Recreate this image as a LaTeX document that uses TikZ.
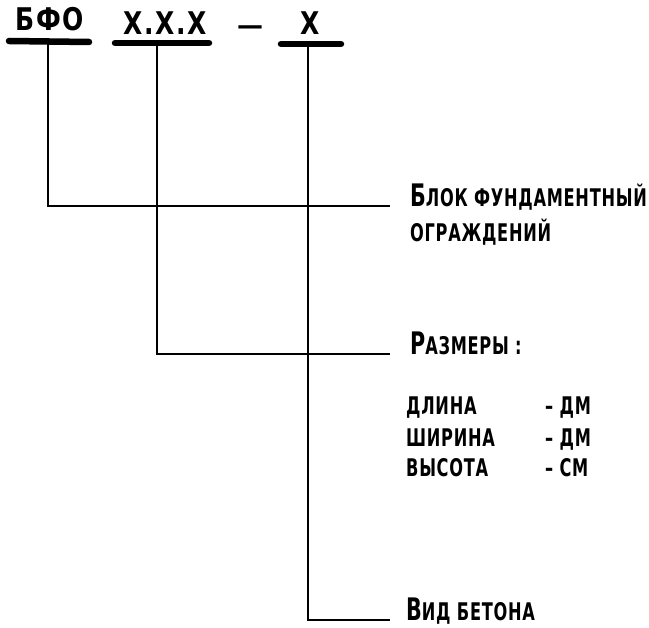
\documentclass[tikz,border=0pt]{standalone}
\usepackage{fontspec}
\setmainfont{DejaVu Sans}
\newfontfamily\lbl{DejaVu Sans Condensed}[LetterSpace=4]
\newfontfamily\codefont{DejaVu Sans}[LetterSpace=6]
\newcommand\tallT[1]{\scalebox{1}[1.35]{#1}}
\newcommand\tallC[1]{\scalebox{1}[1.25]{#1}}
\begin{document}
\begin{tikzpicture}[x=1pt,y=-1pt,
  bar/.style={line width=6.5pt, line cap=round},
  lead/.style={line width=2.6pt},
  txt/.style={anchor=base west, inner sep=0pt, font=\lbl\bfseries\fontsize{18}{18}\selectfont},
  code/.style={anchor=base, inner sep=0pt, font=\codefont\bfseries\fontsize{25}{25}\selectfont},
  codex/.style={anchor=base, inner sep=0pt, font=\codefont\bfseries\fontsize{25}{25}\selectfont}]
\useasboundingbox (0,0) rectangle (649,628);
% code bars
\coordinate (b1l) at (9,41);  \coordinate (b1r) at (89,42);
\coordinate (b2l) at (115,43); \coordinate (b2r) at (209,43);
\coordinate (b3l) at (281,44); \coordinate (b3r) at (341,44);
\draw[bar] (b1l) -- (b1r);
\draw[bar] (b2l) -- (b2r);
\draw[bar] (b3l) -- (b3r);
\node[code] (c1) at (50,31) {\tallC{БФО}};
\node[codex] (c2) at (165,35) {\tallC{X.X.X}};
\node[inner sep=0pt, font=\bfseries\fontsize{26}{26}\selectfont] (dash) at (250,30) {—};
\node[codex] (c3) at (310,35) {\tallC{X}};
% branch points
\coordinate (v1) at (48,42);
\coordinate (v2) at (157,43);
\coordinate (v3) at (308,44);
\coordinate (e1) at (390,206);
\coordinate (e2) at (390,354);
\coordinate (e3) at (390,620);
\draw[lead] (v1) |- (e1);
\draw[lead] (v2) |- (e2);
\draw[lead] (v3) |- (e3);
% labels
\node[txt] (l1) at (410,207) {\tallT{{\fontsize{23}{23}\selectfont Б}ЛОК ФУНДАМЕНТНЫЙ}};
\node[txt] (l1b) at (410,242) {\tallT{ОГРАЖДЕНИЙ}};
\node[txt] (l2) at (410,355) {\tallT{{\fontsize{23}{23}\selectfont Р}АЗМЕРЫ :}};
\node[txt] (d1) at (406,415) {\tallT{ДЛИНА}};
\node[txt] (d2) at (406,447) {\tallT{ШИРИНА}};
\node[txt] (d3) at (406,477) {\tallT{ВЫСОТА}};
\node[txt] (u1) at (545,415) {\tallT{– ДМ}};
\node[txt] (u2) at (545,447) {\tallT{– ДМ}};
\node[txt] (u3) at (545,477) {\tallT{– СМ}};
\node[txt] (l3) at (406,621) {\tallT{{\fontsize{23}{23}\selectfont В}ИД БЕТОНА}};
\end{tikzpicture}
\end{document}
